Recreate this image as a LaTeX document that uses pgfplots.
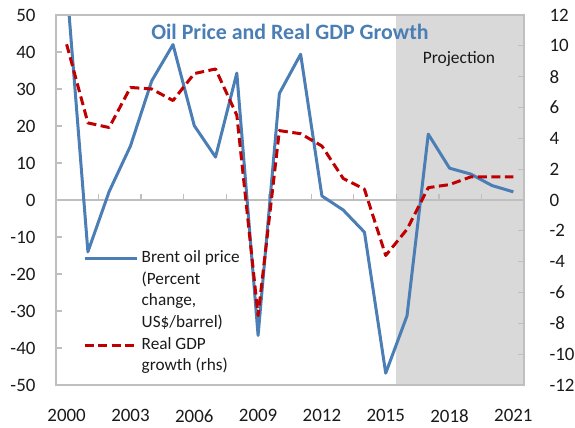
\documentclass[border=0pt]{standalone}
\usepackage{pgfplots}
\usepackage{pgfplotstable}
\pgfplotsset{compat=1.18}
\usepackage{fontspec}
\setmainfont{Carlito}
\definecolor{oilblue}{RGB}{74,126,180}
\definecolor{gdpred}{RGB}{192,0,0}
\definecolor{projgray}{RGB}{217,217,217}
\definecolor{framegray}{RGB}{191,191,191}
\definecolor{txt}{RGB}{26,26,26}
\pgfplotstableread{
i oil
0 58.5
1 -14.0
2 2.3
3 14.6
4 32.2
5 42.0
6 20.1
7 11.6
8 34.3
9 -36.6
10 28.8
11 39.4
12 1.1
13 -2.7
14 -8.7
15 -46.8
16 -31.3
17 17.8
18 8.6
19 7.0
20 3.9
21 2.2
}\oiltable
\pgfplotstableread{
i gdp
0 10.1
1 5.0
2 4.7
3 7.3
4 7.2
5 6.45
6 8.2
7 8.5
8 5.5
9 -7.5
10 4.5
11 4.3
12 3.5
13 1.4
14 0.7
15 -3.6
16 -1.9
17 0.8
18 1.0
19 1.5
20 1.5
21 1.5
}\gdptable
\begin{document}
\begin{tikzpicture}
\begin{axis}[name=ax, scale only axis, width=468bp, height=370bp,
  xmin=-0.5, xmax=21.5, ymin=-50, ymax=50,
  axis on top,
  axis line style={framegray, line width=1.3bp},
  xtick={0,3,...,21}, xticklabels={2000,2003,2006,2009,2012,2015,2018,2021},
  xtick style={draw=none},
  ytick={-50,-40,...,50}, yticklabels={-50,-40,-30,-20,-10,0,10,20,30,40,50},
  ytick pos=left, xtick pos=bottom,
  ytick style={framegray, line width=1.3bp},
  major tick length=6bp, tick align=inside,
  ticklabel style={font=\fontsize{19}{21}\selectfont, text=txt},
  yticklabel style={xshift=-17bp},
  xticklabel style={yshift=-21bp},
  legend image code/.code={\draw[#1] (0bp,0bp) -- (52bp,0bp);},
  legend style={draw=none, fill=none, at={(rel axis cs:0.0577,0.365)}, anchor=north west,
    inner sep=0pt, row sep=4.6bp, column sep=0pt, font=\fontsize{17.3}{20.7}\selectfont, text=txt,
    nodes={inner sep=0pt, text height=12.5bp, text depth=4.5bp}},
  legend cell align=left,
]
\fill[projgray] (axis cs:15.5,-50) rectangle (axis cs:21.5,50);
\draw[framegray, line width=1.3bp] (axis cs:-0.5,0) -- (axis cs:21.5,0);
\pgfplotsinvokeforeach{-0.5,1.5,...,21.5}{\draw[framegray, line width=1.3bp] (axis cs:#1,0) -- ([yshift=6bp]axis cs:#1,0);}
\addplot[oilblue, line width=3bp, line join=round] table[x=i,y=oil]{\oiltable};
\addlegendentry{\hspace{3.5bp}Brent oil price}
\addlegendimage{empty legend}
\addlegendentry{\hspace{3.5bp}(Percent}
\addlegendimage{empty legend}
\addlegendentry{\hspace{3.5bp}change,}
\addlegendimage{empty legend}
\addlegendentry{\hspace{3.5bp}US\$/barrel)}
\addlegendimage{gdpred, line width=3bp, dash pattern=on 9bp off 4.5bp}
\addlegendentry{\hspace{3.5bp}Real GDP}
\addlegendimage{empty legend}
\addlegendentry{\hspace{3.5bp}growth (rhs)}
\node[anchor=base, font=\fontsize{22}{24}\selectfont\bfseries, text=oilblue] at (rel axis cs:0.5,0.934) {Oil Price and Real GDP Growth};
\node[anchor=base, font=\fontsize{17.5}{20}\selectfont, text=txt] at (rel axis cs:0.861,0.870) {Projection};
\end{axis}
\begin{axis}[scale only axis, width=468bp, height=370bp,
  xmin=-0.5, xmax=21.5, ymin=-12, ymax=12,
  axis x line=none, axis y line*=right,
  axis line style={framegray, line width=1.3bp},
  ytick={-12,-10,...,12}, yticklabels={-12,-10,-8,-6,-4,-2,0,2,4,6,8,10,12},
  ytick style={framegray, line width=1.3bp},
  major tick length=6bp, tick align=inside,
  ticklabel style={font=\fontsize{19}{21}\selectfont, text=txt},
  yticklabel style={anchor=west, xshift=22bp},
]
\addplot[gdpred, line width=3bp, line join=round, dash pattern=on 9bp off 4.5bp] table[x=i,y=gdp]{\gdptable};
\end{axis}
\pgfresetboundingbox
\path (ax.south west) ++(-56bp,-43bp) rectangle ++(575bp,428bp);
\end{tikzpicture}
\end{document}
